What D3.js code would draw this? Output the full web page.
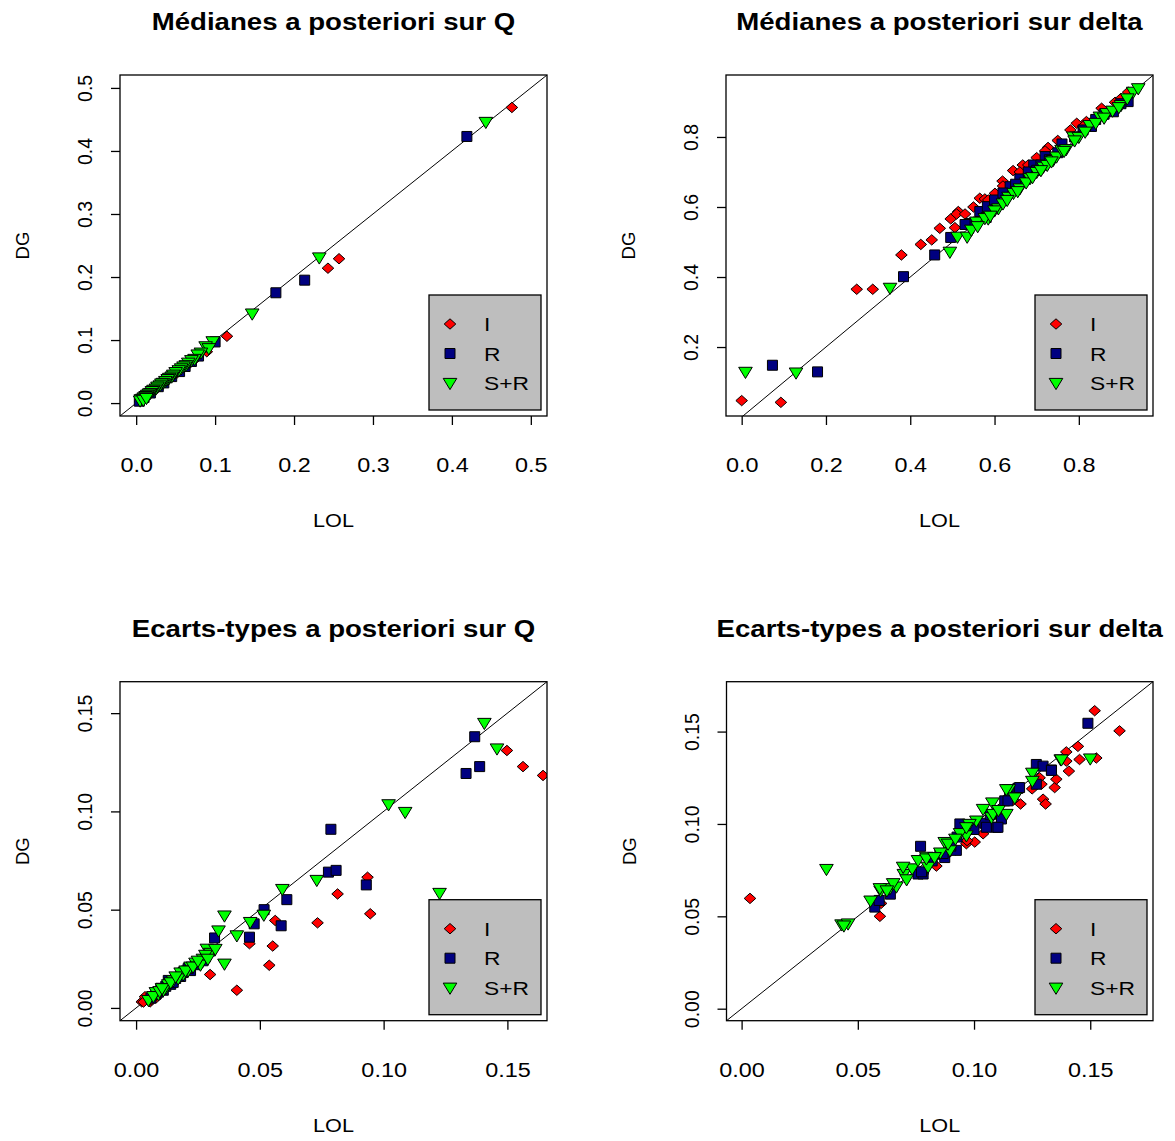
<!DOCTYPE html>
<html>
<head>
<meta charset="utf-8">
<script src="https://cdn.jsdelivr.net/npm/d3@7"></script>
<style>
body { margin: 0; background: #fff; }
text { font-family: "Liberation Sans", Arial, sans-serif; fill: #000; }
</style>
</head>
<body>
<div id="main"></div>
<script>
// values: [LOL, DG]

// Medianes a posteriori sur Q
var qMedI = [[0.476,0.469],[0.257,0.229],[0.243,0.214],[0.115,0.106],[0.0895,0.0815],[0.005,0.003],[0.012,0.010],
  [0.025,0.022],[0.038,0.035],[0.052,0.048],[0.065,0.06],[0.075,0.07]];
var qMedR = [[0.419,0.423],[0.2135,0.195],[0.177,0.175],[0.1,0.097],[0.079,0.0746],[0.070,0.066],[0.062,0.058],
  [0.055,0.05],[0.045,0.042],[0.035,0.032],[0.028,0.026],[0.018,0.016],[0.01,0.009],[0.004,0.003]];
var qMedSR = [[0.443,0.446],[0.232,0.231],[0.147,0.142],[0.097,0.098],[0.088,0.09],[0.092,0.087],[0.082,0.08],
  [0.078,0.077],[0.074,0.07],[0.07,0.068],[0.066,0.064],[0.063,0.06],[0.06,0.058],[0.057,0.055],[0.054,0.052],
  [0.05,0.049],[0.047,0.045],[0.045,0.042],[0.042,0.04],[0.04,0.038],[0.037,0.035],[0.034,0.032],[0.032,0.031],
  [0.03,0.028],[0.027,0.026],[0.025,0.023],[0.022,0.021],[0.02,0.019],[0.018,0.016],[0.016,0.015],[0.014,0.013],
  [0.012,0.011],[0.01,0.009],[0.008,0.007],[0.006,0.006],[0.005,0.004],[0.009,0.005],[0.013,0.008]];

// Medianes a posteriori sur delta
var dMedI = [[0.0,0.047],[0.093,0.042],[0.273,0.365],[0.311,0.365],[0.379,0.463],[0.425,0.493],[0.451,0.506],
  [0.47,0.539],[0.496,0.566],[0.514,0.587],[0.506,0.541],[0.51,0.58],[0.565,0.625],[0.577,0.623],[0.601,0.639],
  [0.619,0.674],[0.644,0.704],[0.667,0.72],[0.70,0.741],[0.727,0.770],[0.795,0.839],[0.818,0.844],[0.854,0.882],
  [0.886,0.899],[0.917,0.928],[0.62,0.66],[0.68,0.72],[0.75,0.79],[0.81,0.83],[0.55,0.6],[0.595,0.6],
  [0.53,0.58],[0.585,0.62],[0.66,0.7],[0.72,0.76],[0.78,0.82],[0.9,0.91]];
var dMedR = [[0.073,0.148],[0.180,0.129],[0.384,0.401],[0.458,0.463],[0.496,0.513],[0.542,0.553],[0.565,0.587],
  [0.583,0.601],[0.637,0.658],[0.693,0.72],[0.72,0.744],[0.81,0.82],[0.882,0.872],[0.917,0.901],[0.6,0.62],
  [0.62,0.64],[0.66,0.68],[0.71,0.72],[0.76,0.78],[0.84,0.85],[0.53,0.55],[0.58,0.57],[0.73,0.735],[0.83,0.83],
  [0.65,0.665],[0.68,0.7],[0.7,0.705],[0.75,0.755],[0.79,0.8],[0.86,0.865],[0.9,0.895]];
var dMedSR = [[0.009,0.129],[0.129,0.127],[0.352,0.369],[0.494,0.472],[0.512,0.515],[0.535,0.515],[0.565,0.558],
  [0.585,0.567],[0.609,0.596],[0.633,0.629],[0.66,0.653],[0.684,0.682],[0.716,0.715],[0.739,0.734],[0.747,0.744],
  [0.759,0.763],[0.787,0.801],[0.826,0.834],[0.85,0.858],[0.866,0.868],[0.9,0.891],[0.929,0.929],[0.941,0.939],
  [0.6,0.59],[0.62,0.61],[0.645,0.64],[0.675,0.67],[0.7,0.7],[0.725,0.72],[0.77,0.765],[0.8,0.8],[0.815,0.815],
  [0.88,0.875],[0.545,0.535],[0.557,0.558],[0.577,0.568],[0.63,0.62],[0.655,0.645],[0.69,0.685],[0.71,0.705],
  [0.735,0.73],[0.765,0.76],[0.79,0.79],[0.84,0.84],[0.86,0.855],[0.895,0.885],[0.915,0.91],[0.56,0.545],
  [0.59,0.575]];

// Ecarts-types a posteriori sur Q
var qSdI = [[0.1498,0.131],[0.1563,0.1228],[0.1644,0.1183],[0.0935,0.0665],[0.0814,0.058],[0.0946,0.0479],
  [0.0733,0.0433],[0.0562,0.0445],[0.0552,0.0315],[0.0538,0.0217],[0.0407,0.009],[0.0299,0.017],[0.0458,0.0327],
  [0.0023,0.0031],[0.0036,0.0057],[0.0057,0.0031],[0.007,0.006],[0.008,0.005],[0.003,0.003],[0.01,0.008],
  [0.006,0.004],[0.012,0.011],[0.016,0.014],[0.022,0.02]];
var qSdR = [[0.1368,0.138],[0.1388,0.1228],[0.1333,0.1193],[0.0787,0.0909],[0.0777,0.0691],[0.0808,0.070],
  [0.093,0.0626],[0.0609,0.0551],[0.0586,0.0418],[0.0517,0.050],[0.0458,0.036],[0.0477,0.0428],[0.0317,0.0356],
  [0.028,0.026],[0.025,0.023],[0.022,0.019],[0.019,0.018],[0.016,0.015],[0.014,0.012],[0.012,0.011],[0.01,0.01],
  [0.009,0.008],[0.013,0.014],[0.006,0.005],[0.008,0.007],[0.011,0.009],[0.015,0.013],[0.018,0.016],[0.021,0.02],
  [0.024,0.022],[0.027,0.024],[0.03,0.029]];
var qSdSR = [[0.1407,0.145],[0.1458,0.132],[0.102,0.1036],[0.1087,0.0997],[0.073,0.0651],[0.1226,0.0585],
  [0.0591,0.0605],[0.0516,0.0474],[0.0461,0.0437],[0.0407,0.0369],[0.0357,0.047],[0.0333,0.0394],[0.0357,0.0225],
  [0.0286,0.0301],[0.027,0.025],[0.026,0.022],[0.024,0.023],[0.022,0.021],[0.021,0.019],[0.019,0.017],[0.018,0.018],
  [0.017,0.015],[0.015,0.014],[0.013,0.012],[0.012,0.01],[0.011,0.009],[0.009,0.007],[0.008,0.008],[0.03,0.028],
  [0.032,0.03],[0.005,0.004],[0.007,0.006],[0.0095,0.0085],[0.0105,0.01],[0.014,0.013],[0.016,0.016],[0.02,0.019],
  [0.023,0.021],[0.025,0.024],[0.028,0.027],[0.029,0.025]];

// Ecarts-types a posteriori sur delta
var dSdI = [[0.0036,0.0597],[0.0595,0.05],[0.0838,0.0772],[0.0967,0.0893],[0.1003,0.0902],[0.1039,0.0947],
  [0.12,0.1108],[0.1297,0.1134],[0.1308,0.1108],[0.1347,0.1197],[0.1354,0.1242],[0.1408,0.1286],[0.1397,0.139],
  [0.1454,0.1349],[0.1447,0.142],[0.1526,0.1357],[0.1519,0.1613],[0.1626,0.1504],[0.06,0.057],[0.092,0.086],
  [0.078,0.073],[0.1105,0.1045],[0.129,0.1215],[0.1397,0.134],[0.1282,0.125],[0.088,0.083],[0.097,0.091],
  [0.117,0.113],[0.125,0.119]];
var dSdR = [[0.0573,0.055],[0.0592,0.0586],[0.0759,0.0729],[0.0781,0.0729],[0.077,0.0879],[0.0853,0.0836],
  [0.0874,0.0818],[0.0924,0.0857],[0.0927,0.0929],[0.0967,0.0991],[0.1046,0.1004],[0.1096,0.0982],[0.1118,0.1027],
  [0.1132,0.1125],[0.1153,0.1152],[0.1189,0.1193],[0.1268,0.1322],[0.1297,0.1313],[0.1333,0.1292],[0.1268,0.1215],
  [0.149,0.1545],[0.082,0.08],[0.1,0.097],[0.107,0.105],[0.0774,0.0741],[0.0867,0.084],[0.0939,0.1],
  [0.1053,0.0982],[0.1103,0.0982],[0.1146,0.1125],[0.1196,0.1197],[0.1333,0.129],[0.09,0.088],[0.064,0.062]];
var dSdSR = [[0.0365,0.0756],[0.043,0.0456],[0.0458,0.0461],[0.0598,0.0639],[0.0638,0.0652],[0.0666,0.0661],
  [0.0698,0.0729],[0.0734,0.0759],[0.0759,0.0804],[0.0795,0.0822],[0.0802,0.0768],[0.0896,0.0857],[0.0874,0.0902],
  [0.0967,0.0938],[0.101,0.1018],[0.1039,0.1081],[0.1075,0.1036],[0.1139,0.1054],[0.1079,0.1116],[0.115,0.1188],
  [0.1175,0.1143],[0.1251,0.1277],[0.1251,0.1233],[0.1373,0.1349],[0.15,0.1354],[0.0855,0.0845],[0.094,0.095],
  [0.098,0.1],[0.071,0.07],[0.044,0.045],[0.0795,0.0813],[0.0695,0.0768],[0.0652,0.0679],[0.0595,0.0652],
  [0.0888,0.0893],[0.0967,0.0982],[0.1082,0.1054],[0.1139,0.1188],[0.1376,0.1349],[0.0555,0.0585],[0.0625,0.064],
  [0.092,0.092],[0.1105,0.1075],[0.083,0.082]];

// axis ranges and ticks
var qMedLim = [-0.0205, 0.5205], qMedTicks = [0, 0.1, 0.2, 0.3, 0.4, 0.5];
var dMedXLim = [-0.0372, 0.976], dMedYLim = [0.003, 0.977];
var dMedXTicks = [0, 0.2, 0.4, 0.6, 0.8], dMedYTicks = [0.2, 0.4, 0.6, 0.8];
var qSdLim = [-0.0065, 0.166], dSdLim = [-0.0065, 0.177], sdTicks = [0, 0.05, 0.1, 0.15];

var titles = ["Médianes a posteriori sur Q", "Médianes a posteriori sur delta",
              "Ecarts-types a posteriori sur Q", "Ecarts-types a posteriori sur delta"];
var groups = ["I", "R", "S+R"];
var fills = {"I": "#ff0000", "R": "#000080", "S+R": "#00ff00"};

var W = 1175, H = 1141, stretch = 1.2;

var svg = d3.select('#main').append('svg')
  .attr("width", W).attr("height", H);

// marker shapes (R pch 23, 22, 25)
var shape = {
  "I": "M0,-5.2L5.8,0L0,5.2L-5.8,0Z",
  "R": "M-5,-5H5V5H-5Z",
  "S+R": "M-6.8,-4.6H6.8L0,6.6Z"
};

// horizontal text is a bit wider than the font: stretch it
function widen(sel) {
  sel.each(function() {
    var n = this.getComputedTextLength();
    d3.select(this).attr("textLength", n * stretch).attr("lengthAdjust", "spacingAndGlyphs");
  });
}

var panels = [
  {box: [120, 75, 547, 416], xd: qMedLim, yd: qMedLim, xt: qMedTicks, yt: qMedTicks, fmt: d3.format(".1f"),
   data: [qMedI, qMedR, qMedSR], title: titles[0]},
  {box: [726, 75, 1153, 416], xd: dMedXLim, yd: dMedYLim, xt: dMedXTicks, yt: dMedYTicks, fmt: d3.format(".1f"),
   data: [dMedI, dMedR, dMedSR], title: titles[1]},
  {box: [120, 681.7, 547, 1020.7], xd: qSdLim, yd: qSdLim, xt: sdTicks, yt: sdTicks, fmt: d3.format(".2f"),
   data: [qSdI, qSdR, qSdSR], title: titles[2]},
  {box: [726.5, 681.7, 1153, 1020.7], xd: dSdLim, yd: dSdLim, xt: sdTicks, yt: sdTicks, fmt: d3.format(".2f"),
   data: [dSdI, dSdR, dSdSR], title: titles[3]}
];

panels.forEach(function(p, k) {
  var L = p.box[0], T = p.box[1], R = p.box[2], B = p.box[3];
  var x = d3.scaleLinear().domain(p.xd).range([L, R]);
  var y = d3.scaleLinear().domain(p.yd).range([B, T]);
  var g = svg.append('g');

  g.append('clipPath').attr('id', 'clip' + k)
    .append('rect').attr('x', L).attr('y', T).attr('width', R - L).attr('height', B - T);

  // abline(0, 1)
  var lo = Math.min(p.xd[0], p.yd[0]), hi = Math.max(p.xd[1], p.yd[1]);
  g.append('line')
    .attr('x1', x(lo)).attr('y1', y(lo)).attr('x2', x(hi)).attr('y2', y(hi))
    .attr('stroke', '#000').attr('stroke-width', 1).attr('clip-path', 'url(#clip' + k + ')');

  // points
  groups.forEach(function(gr, i) {
    g.append('g').attr('clip-path', 'url(#clip' + k + ')')
      .selectAll('path').data(p.data[i]).enter().append('path')
      .attr('d', shape[gr])
      .attr('transform', function(d) { return 'translate(' + x(d[0]) + ',' + y(d[1]) + ')'; })
      .attr('fill', fills[gr]).attr('stroke', '#000').attr('stroke-width', 1);
  });

  // box
  g.append('rect').attr('x', L).attr('y', T).attr('width', R - L).attr('height', B - T)
    .attr('fill', 'none').attr('stroke', '#000').attr('stroke-width', 1.3);

  // axes
  var xa = g.append('g').attr('transform', 'translate(0,' + B + ')')
    .call(d3.axisBottom(x).tickValues(p.xt).tickFormat(p.fmt).tickSize(9).tickPadding(33));
  xa.select('.domain').remove();
  xa.selectAll('line').attr('stroke', '#000').attr('stroke-width', 1.3);
  xa.selectAll('text').attr('font-size', 19.5).attr('font-family', null).attr('fill', '#222')
    .attr('dy', '0.71em');
  widen(xa.selectAll('text'));

  var ya = g.append('g').attr('transform', 'translate(' + L + ',0)')
    .call(d3.axisLeft(y).tickValues(p.yt).tickFormat(p.fmt).tickSize(9));
  ya.select('.domain').remove();
  ya.selectAll('line').attr('stroke', '#000').attr('stroke-width', 1.3);
  ya.selectAll('text').attr('font-size', 19.5).attr('font-family', null).attr('fill', '#222')
    .attr('transform', 'rotate(-90)').attr('x', 0).attr('y', -28).attr('dy', null)
    .attr('text-anchor', 'middle');

  // labels
  var cx = (L + R) / 2, cy = (T + B) / 2;
  g.append('text').attr('x', cx).attr('y', T - 45).attr('text-anchor', 'middle')
    .attr('font-size', 23).attr('font-weight', 'bold').attr('fill', '#111').text(p.title).call(widen);
  g.append('text').attr('x', cx).attr('y', B + 111).attr('text-anchor', 'middle')
    .attr('font-size', 18).attr('fill', '#222').text('LOL').call(widen);
  g.append('text').attr('transform', 'translate(' + (L - 91) + ',' + cy + ') rotate(-90)')
    .attr('text-anchor', 'middle').attr('font-size', 18.5).attr('fill', '#222').text('DG');

  // legend, bottom right
  var lw = 112, lh = 115, lx = R - 6 - lw, ly = B - 6 - lh;
  var leg = g.append('g').attr('transform', 'translate(' + lx + ',' + ly + ')');
  leg.append('rect').attr('width', lw).attr('height', lh)
    .attr('fill', '#bebebe').attr('stroke', '#000').attr('stroke-width', 1.3);
  groups.forEach(function(gr, i) {
    leg.append('path').attr('d', shape[gr])
      .attr('transform', 'translate(21,' + (29 + 29.5 * i) + ')')
      .attr('fill', fills[gr]).attr('stroke', '#000').attr('stroke-width', 1);
    leg.append('text').attr('x', 55).attr('y', 29 + 29.5 * i + 7)
      .attr('font-size', 19).attr('fill', '#222').text(gr).call(widen);
  });
});
</script>
</body>
</html>
